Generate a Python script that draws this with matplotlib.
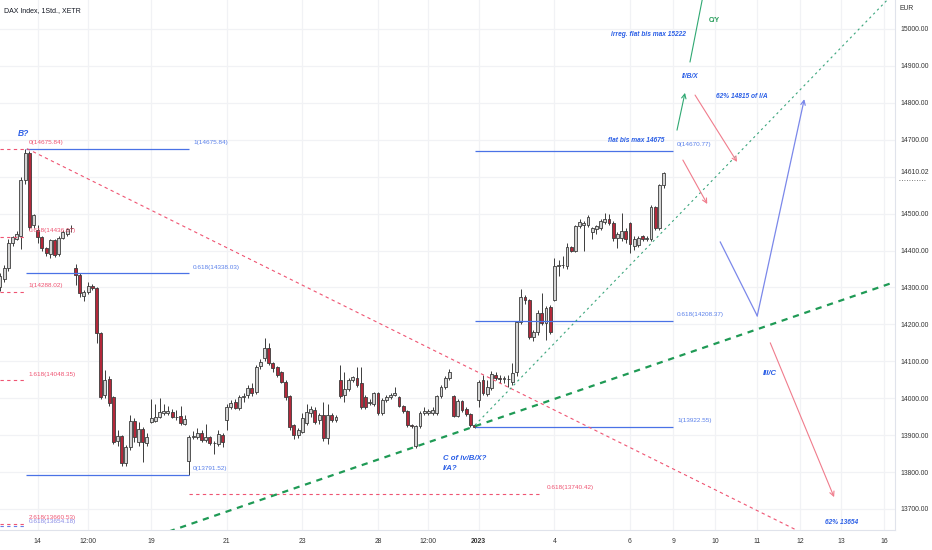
import matplotlib
matplotlib.use("Agg")
import matplotlib.pyplot as plt
from matplotlib.lines import Line2D
from matplotlib import font_manager as fm
import numpy as np

_names = {f.name for f in fm.fontManager.ttflist}
if 'Liberation Sans Narrow' in _names:
    FONT, K = 'Liberation Sans Narrow', 1.0
else:
    FONT, K = 'Liberation Sans', 0.82
plt.rcParams['font.family'] = [FONT, 'DejaVu Sans']

# ---------------- data (hourly DAX, 13 Dec 2022 - 6 Jan 2023) ----------------
opens = [14300, 14322, 14352, 14420, 14432, 14440, 14590, 14665, 14470,
         14455, 14437, 14407, 14390, 14429, 14390, 14434, 14445, 14460,
         14353, 14334, 14276, 14288, 14304, 14298, 14177, 14009, 14052,
         14003, 13885, 13898, 13825, 13868, 13938, 13880, 13917, 13879,
         13936, 13938, 13949, 13960, 13960, 13963, 13950, 13952, 13930,
         13830, 13895, 13895, 13906, 13887, 13895, 13878, 13876, 13900,
         13941, 13976, 13990, 13974, 14003, 14009, 14028, 14017, 14087,
         14109, 14136, 14095, 14085, 14071, 14044, 14006, 13927, 13900,
         13909, 13933, 13960, 13968, 13941, 13955, 13892, 13955, 13941,
         14049, 14009, 14025, 14049, 14055, 14041, 14003, 13988, 13985,
         14014, 13960, 13995, 14003, 14009, 14003, 13979, 13965, 13927,
         13870, 13925, 13960, 13960, 13960, 13960, 14006, 14030, 14055,
         14006, 13952, 13992, 13971, 13957, 13927,
         13995, 14049, 14012, 14028, 14063, 14055, 14052, 14053, 14044,
         14070, 14206, 14274, 14265, 14166, 14180, 14231, 14204, 14247,
         14266, 14358, 14360, 14358, 14410, 14400, 14466, 14470, 14469,
         14450, 14458, 14461, 14478, 14485, 14475, 14434, 14434, 14452,
         14475, 14412, 14415, 14438, 14432, 14431, 14518, 14461, 14577]
highs = [14340, 14360, 14430, 14440, 14452, 14600, 14676, 14670, 14500,
         14470, 14440, 14410, 14432, 14432, 14438, 14455, 14462, 14469,
         14364, 14338, 14292, 14314, 14308, 14300, 14180, 14077, 14060,
         14005, 13915, 13900, 13872, 13955, 13945, 13935, 13922, 13905,
         13998, 13985, 14001, 13985, 13978, 13972, 13968, 13980, 13955,
         13900, 13910, 13918, 13915, 13930, 13898, 13885, 13915, 13905,
         13985, 13995, 13998, 14010, 14015, 14035, 14040, 14090, 14105,
         14163, 14150, 14098, 14088, 14075, 14048, 14010, 13930, 13920,
         13960, 13985, 13980, 13975, 13960, 13990, 13985, 13960, 13955,
         14090, 14070, 14055, 14060, 14085, 14085, 14008, 13998, 14018,
         14018, 14000, 14008, 14015, 14030, 14006, 13982, 13968, 13930,
         13928, 13965, 13975, 13972, 13975, 14010, 14035, 14060, 14078,
         14010, 13998, 13996, 13975, 13960, 13930,
         14050, 14062, 14049, 14075, 14070, 14062, 14060, 14062, 14095,
         14210, 14296, 14280, 14268, 14185, 14240, 14285, 14250, 14252,
         14380, 14375, 14385, 14420, 14412, 14470, 14485, 14480, 14495,
         14465, 14470, 14485, 14502, 14498, 14480, 14450, 14502, 14460,
         14478, 14438, 14440, 14443, 14440, 14522, 14520, 14580, 14612]
lows = [14290, 14315, 14345, 14412, 14428, 14405, 14580, 14455, 14462,
        14420, 14400, 14385, 14380, 14383, 14386, 14430, 14440, 14450,
        14307, 14275, 14262, 14282, 14294, 14150, 13998, 14000, 13980,
        13875, 13870, 13815, 13815, 13860, 13880, 13870, 13828, 13870,
        13933, 13935, 13945, 13955, 13955, 13945, 13940, 13928, 13927,
        13792, 13890, 13890, 13882, 13880, 13872, 13850, 13870, 13868,
        13915, 13970, 13970, 13968, 13990, 14000, 14005, 14012, 14080,
        14100, 14090, 14070, 14058, 14040, 13995, 13915, 13890, 13892,
        13905, 13928, 13950, 13930, 13930, 13885, 13876, 13935, 13935,
        14000, 13990, 14020, 14045, 14030, 13970, 13970, 13982, 13980,
        13955, 13955, 13990, 13998, 14005, 13975, 13960, 13922, 13918,
        13866, 13920, 13955, 13955, 13955, 13955, 14000, 14025, 14050,
        13948, 13948, 13962, 13952, 13922, 13920,
        13975, 14008, 14005, 14022, 14050, 14040, 14042, 14030, 14035,
        14060, 14200, 14255, 14160, 14155, 14170, 14198, 14158, 14175,
        14262, 14330, 14352, 14350, 14395, 14395, 14460, 14400, 14465,
        14430, 14445, 14455, 14472, 14470, 14425, 14407, 14425, 14420,
        14393, 14402, 14410, 14425, 14425, 14425, 14455, 14455, 14570]
closes = [14330, 14352, 14420, 14436, 14446, 14590, 14665, 14465, 14495,
          14437, 14407, 14393, 14429, 14388, 14434, 14450, 14458, 14461,
          14334, 14285, 14288, 14304, 14298, 14177, 14003, 14049, 13987,
          13881, 13898, 13825, 13868, 13938, 13895, 13917, 13880, 13895,
          13946, 13950, 13963, 13965, 13966, 13950, 13948, 13933, 13944,
          13895, 13897, 13905, 13887, 13895, 13878, 13878, 13903, 13882,
          13976, 13987, 13974, 14003, 14006, 14028, 14015, 14085, 14098,
          14136, 14095, 14082, 14063, 14044, 14003, 13922, 13900, 13914,
          13946, 13963, 13971, 13936, 13955, 13892, 13955, 13941, 13948,
          14006, 14025, 14049, 14057, 14036, 13976, 13976, 13990, 14014,
          13960, 13995, 14003, 14009, 14014, 13979, 13965, 13927, 13925,
          13925, 13960, 13966, 13966, 13968, 14006, 14030, 14055, 14071,
          13952, 13992, 13968, 13957, 13927, 13923,
          14044, 14014, 14030, 14065, 14055, 14052, 14053, 14051, 14068,
          14206, 14274, 14265, 14166, 14180, 14231, 14204, 14244, 14180,
          14358, 14360, 14362, 14410, 14400, 14466, 14478, 14475, 14491,
          14461, 14466, 14480, 14486, 14474, 14434, 14445, 14452, 14432,
          14418, 14431, 14435, 14432, 14433, 14518, 14461, 14577, 14610.02]

x_tick_pos = [9, 21, 36, 54, 72, 90, 102, 114, 132, 150,
              160.3, 170.3, 180.3, 190.5, 200.3, 210.5]
x_tick_labels = ['14', '12:00', '19', '21', '23', '28', '12:00', '2023',
                 '4', '6', '9', '10', '11', '12', '13', '16']
grid_levels = list(range(13700, 15001, 100))
y_ticks = [v for v in grid_levels if v != 14600]
last_price = 14610.02

# ---------------- figure ----------------
W, H = 932, 550
fig = plt.figure(figsize=(W / 100, H / 100), dpi=100)
ax = fig.add_axes([0, 20 / H, 895 / W, 530 / H])
XMIN, XMAX = 0.024, 213.1
YMIN, YMAX = 13643, 15078.5
ax.set_xlim(XMIN, XMAX)
ax.set_ylim(YMIN, YMAX)

# grid
for yv in grid_levels:
    ax.axhline(yv, color='#f1f2f5', lw=0.9, zorder=0)
for xv in x_tick_pos:
    ax.axvline(xv, color='#f1f2f5', lw=0.9, zorder=0)

# candles
idx = np.arange(len(opens))
o = np.array(opens, float); h = np.array(highs, float)
l = np.array(lows, float); c = np.array(closes, float)
up = c >= o
ax.vlines(idx, l, h, color='#3c3c3c', lw=0.7, zorder=2)
body_b = np.minimum(o, c)
body_h = np.maximum(np.abs(c - o), 1.5)
ax.bar(idx[up], body_h[up], bottom=body_b[up], width=0.68,
       color='#d4d4d4', edgecolor='#3c3c3c', linewidth=0.6, zorder=3)
ax.bar(idx[~up], body_h[~up], bottom=body_b[~up], width=0.68,
       color='#b3283a', edgecolor='#3c3c3c', linewidth=0.6, zorder=3)

RED = '#ef5472'
BLUE = '#4a72e6'
BLUE_T = '#5a80ea'
ANN = '#2b5fe6'
fs_lab = 5.6 * K
off = 17

def red_level(val, x0, x1, lab, lx):
    ax.hlines(val, x0, x1, color=RED, lw=0.8, linestyles=(0, (3, 3)), zorder=4)
    if lab:
        ax.text(lx, val + off, lab, color=RED, fontsize=fs_lab, va='center', zorder=6)

def blue_level(val, x0, x1, lab, lx):
    ax.hlines(val, x0, x1, color=BLUE, lw=0.9, zorder=4)
    ax.text(lx, val + off, lab, color=BLUE_T, fontsize=fs_lab, va='center', zorder=6)

# left fib (red, dashed)
red_level(14675.84, XMIN, 6.3, '0(14675.84)', 6.9)
red_level(14436.07, XMIN, 6.3, '0.618(14436.07)', 6.9)
red_level(14288.02, XMIN, 6.3, '1(14288.02)', 6.9)
red_level(14048.35, XMIN, 6.3, '1.618(14048.35)', 6.9)
red_level(13660.53, XMIN, 6.3, None, 6.9)
ax.hlines(13654.18, XMIN, 6.3, color='#6a7ee6', lw=0.8, linestyles=(0, (3, 3)), zorder=4)
ax.text(6.9, 13660.53 + 17, '2.618(13660.53)', color=RED, fontsize=fs_lab, va='center', zorder=6)
ax.text(6.9, 13654.18 + 13, '0.618(13654.18)', color='#6a6ee0', fontsize=fs_lab, va='center',
        zorder=6, alpha=0.8)

# second fib (blue)
blue_level(14675.84, 6.3, 45, '1(14675.84)', 46)
blue_level(14338.03, 6.3, 45, '0.618(14338.03)', 46)
blue_level(13791.52, 6.3, 45, '0(13791.52)', 45.8)

# red extension level
red_level(13740.42, 45, 129, '0.618(13740.42)', 130.2)

# third fib (blue)
blue_level(14670.77, 113.1, 160.2, '0(14670.77)', 161.2)
blue_level(14208.37, 113.1, 160.2, '0.618(14208.37)', 161.2)
blue_level(13922.55, 113.1, 160.2, '1(13922.55)', 161.2)

# red dashed diagonal from the B high
xs = np.array([6.45, XMAX])
slope_r = (13638 - 14675.84) / (190.5 - 6.45)
ax.plot(xs, 14675.84 + slope_r * (xs - 6.45), color=RED, lw=0.8,
        linestyle=(0, (3, 3)), zorder=4)

# thick green dashed trend line
slope_g = (14315 - 13870) / (213.1 - 99.3)
xs = np.array([XMIN, XMAX])
ax.plot(xs, 13870 + slope_g * (xs - 99.3), color='#1f9a55', lw=1.6,
        linestyle=(0, (2.8, 2.6)), zorder=4)

# thin green dotted trend line
slope_t = (15078 - 13927) / (211.2 - 113.1)
xs = np.array([113.1, XMAX])
ax.plot(xs, 13927 + slope_t * (xs - 113.1), color='#3aa57c', lw=0.8,
        linestyle=(0, (2, 3)), zorder=4)

# arrows / projected path
def arrow(p0, p1, color, lw=0.8):
    ax.annotate('', xy=p1, xytext=p0,
                arrowprops=dict(arrowstyle='->', color=color, lw=lw,
                                mutation_scale=8, shrinkA=0, shrinkB=0), zorder=5)

GREEN_A = '#2fa872'
arrow((161.2, 14726), (163.1, 14827), GREEN_A)
ax.plot([164.3, 167.2], [14911, 15079], color=GREEN_A, lw=0.8, zorder=5)
arrow((165.5, 14821), (175.5, 14640), '#f07c8c')
arrow((162.6, 14645), (168.4, 14526), '#f07c8c')
ax.plot([171.5, 180.3], [14423, 14223], color='#7b88ea', lw=0.9, zorder=5)
arrow((180.3, 14223), (191.5, 14810), '#7b88ea', lw=0.9)
arrow((183.4, 14150), (198.6, 13732), '#f07c8c')

# annotations
afs = 5.8 * K
bi = dict(color=ANN, style='italic', fontweight='bold', va='center', zorder=6)
ax.text(5.7, 14716, 'B?', fontsize=7.5 * K, ha='center', **bi)
ax.text(158.1, 14699, 'flat bis max 14675', fontsize=afs, ha='right', **bi)
ax.text(145.5, 14986, 'irreg. flat bis max 15222', fontsize=afs, ha='left', **bi)
ax.text(168.8, 15022, 'C/Y', color='#1f9a55', fontsize=afs, fontweight='bold',
        ha='left', va='center', zorder=6)
ax.text(162.4, 14870, 'II/B/X', fontsize=afs, ha='left', **bi)
ax.text(170.5, 14816, '62% 14815 of I/A', fontsize=afs, ha='left', **bi)
ax.text(183.3, 14068, 'III/C', fontsize=6.8 * K, ha='center', **bi)
ax.text(200.3, 13662, '62% 13654', fontsize=afs, ha='center', **bi)
ax.text(105.5, 13838, 'C of iv/B/X?', fontsize=6.8 * K, ha='left', **bi)
ax.text(105.5, 13810, 'I/A?', fontsize=6.8 * K, ha='left', **bi)

# axes styling
for s in ['top', 'left']:
    ax.spines[s].set_visible(False)
ax.spines['right'].set_color('#e0e3eb')
ax.spines['bottom'].set_color('#e0e3eb')
ax.yaxis.tick_right()
ax.set_yticks(y_ticks)
ax.set_yticklabels([f'{v:.2f}' for v in y_ticks])
ax.set_xticks(x_tick_pos)
ax.set_xticklabels(x_tick_labels)
ax.tick_params(axis='both', length=0, labelsize=5.9 * K, colors='#333333')
ax.tick_params(axis='y', pad=4)
ax.tick_params(axis='x', pad=6)
for t in ax.get_xticklabels():
    if t.get_text() == '2023':
        t.set_fontweight('bold')

fig.text(4 / W, 1 - 11 / H, 'DAX Index, 1Std., XETR', fontsize=6.2 * K, color='#131722',
         va='center', ha='left')
fig.text(900 / W, 1 - 9 / H, 'EUR', fontsize=5.9 * K, color='#333333', va='center')
ax.annotate(f'{last_price:.2f}', xy=(1, last_price), xycoords=('axes fraction', 'data'),
            xytext=(4, 0), textcoords='offset points', fontsize=5.9 * K,
            color='#333333', va='center', ha='left', annotation_clip=False)
fig.add_artist(Line2D([899 / W, 925 / W], [1 - 180 / H, 1 - 180 / H], color='#555555',
                      lw=0.6, linestyle=(0, (1, 2)), transform=fig.transFigure))

fig.savefig('out.png', dpi=100, facecolor='white')
